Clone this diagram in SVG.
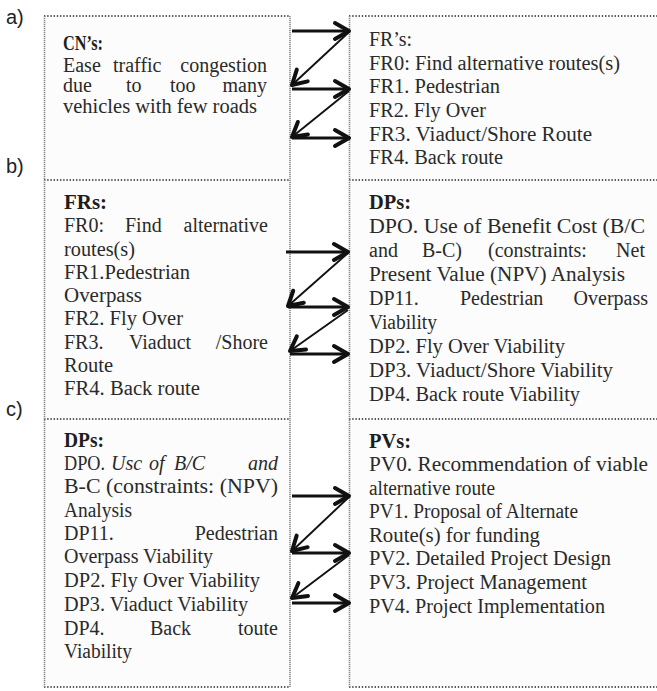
<svg xmlns="http://www.w3.org/2000/svg" width="657" height="691" viewBox="0 0 657 691">
<style>
.t{font-family:"Liberation Serif","Times New Roman",serif;font-size:20px;fill:#2a2a2a}
.e{text-anchor:end}
.b{font-weight:bold;fill:#1e1e1e}
.i{font-style:italic}
.lbl{font-family:"Liberation Sans",Arial,sans-serif;font-size:20px;fill:#222}
.hd{stroke:#222;stroke-width:1.4;stroke-dasharray:1.4 1.8;fill:none}
.vd{stroke:#8a8a8a;stroke-width:1.6;stroke-dasharray:1.2 0.8;fill:none}
.ah{stroke:#111;stroke-width:2.8;fill:none;marker-end:url(#ah)}
.ad{stroke:#111;stroke-width:1.9;fill:none;marker-end:url(#ah)}
</style>
<defs>
<marker id="ah" markerUnits="userSpaceOnUse" markerWidth="24" markerHeight="24" viewBox="-18 -12 24 24" refX="0" refY="0" orient="auto" overflow="visible">
<path d="M-14,-8 L0,0 L-14,8" stroke="#111" stroke-width="4" fill="none" stroke-linecap="round" stroke-linejoin="round"/>
</marker>
</defs>
<rect x="0" y="0" width="657" height="691" fill="#ffffff"/>
<g id="labels">
<text class="lbl" x="6" y="24">a)</text>
<text class="lbl" x="6" y="173">b)</text>
<text class="lbl" x="6" y="416">c)</text>
</g>
<g id="frames">
<rect x="44.5" y="16" width="245.5" height="671" fill="#fcfcfc" stroke="none"/>
<rect x="349.5" y="16" width="307.5" height="671" fill="#fcfcfc" stroke="none"/>
<path class="hd" d="M44,16H290M44,180H290M44,419H290M44,687H290"/>
<path class="hd" d="M349,16H657M349,180H657M349,419H657M349,687H657"/>
<path class="vd" d="M44.5,16V687M290,16V687M349.5,16V687"/>
</g>
<g id="cn-a">
<text class="t b" x="63" y="50" textLength="40" lengthAdjust="spacingAndGlyphs">CN’s:</text>
<text class="t" x="63" y="72">Ease</text>
<text class="t" x="113" y="72">traffic</text>
<text class="t e" x="267" y="72">congestion</text>
<text class="t" x="63" y="92">due</text>
<text class="t" x="126" y="92">to</text>
<text class="t" x="170" y="92">too</text>
<text class="t e" x="267" y="92">many</text>
<text class="t" x="63" y="113" textLength="194" lengthAdjust="spacingAndGlyphs">vehicles with few roads</text>
</g>
<g id="fr-a">
<text class="t" x="369" y="46" textLength="43" lengthAdjust="spacingAndGlyphs">FR’s:</text>
<text class="t" x="369" y="70" textLength="251" lengthAdjust="spacingAndGlyphs">FR0: Find alternative routes(s)</text>
<text class="t" x="369" y="93" textLength="131" lengthAdjust="spacingAndGlyphs">FR1. Pedestrian</text>
<text class="t" x="369" y="117" textLength="117" lengthAdjust="spacingAndGlyphs">FR2. Fly Over</text>
<text class="t" x="369" y="141" textLength="223" lengthAdjust="spacingAndGlyphs">FR3. Viaduct/Shore Route</text>
<text class="t" x="369" y="164" textLength="134" lengthAdjust="spacingAndGlyphs">FR4. Back route</text>
</g>
<g id="fr-b">
<text class="t b" x="64" y="209" textLength="43" lengthAdjust="spacingAndGlyphs">FRs:</text>
<text class="t" x="64" y="232">FR0:</text>
<text class="t" x="125" y="232">Find</text>
<text class="t e" x="268" y="232">alternative</text>
<text class="t" x="64" y="256" textLength="71" lengthAdjust="spacingAndGlyphs">routes(s)</text>
<text class="t" x="64" y="279" textLength="126" lengthAdjust="spacingAndGlyphs">FR1.Pedestrian</text>
<text class="t" x="64" y="302" textLength="78" lengthAdjust="spacingAndGlyphs">Overpass</text>
<text class="t" x="64" y="325" textLength="119" lengthAdjust="spacingAndGlyphs">FR2. Fly Over</text>
<text class="t" x="64" y="349">FR3.</text>
<text class="t" x="129" y="349">Viaduct</text>
<text class="t e" x="268" y="349">/Shore</text>
<text class="t" x="64" y="372" textLength="49" lengthAdjust="spacingAndGlyphs">Route</text>
<text class="t" x="64" y="395" textLength="136" lengthAdjust="spacingAndGlyphs">FR4. Back route</text>
</g>
<g id="dp-b">
<text class="t b" x="369" y="209" textLength="42" lengthAdjust="spacingAndGlyphs">DPs:</text>
<text class="t" x="369" y="233" textLength="276" lengthAdjust="spacingAndGlyphs">DPO. Use of Benefit Cost (B/C</text>
<text class="t" x="369" y="257">and</text>
<text class="t" x="422" y="257">B-C)</text>
<text class="t" x="488" y="257">(constraints:</text>
<text class="t e" x="645" y="257">Net</text>
<text class="t" x="369" y="281" textLength="256" lengthAdjust="spacingAndGlyphs">Present Value (NPV) Analysis</text>
<text class="t" x="369" y="305">DP11.</text>
<text class="t" x="460" y="305">Pedestrian</text>
<text class="t e" x="648" y="305">Overpass</text>
<text class="t" x="369" y="329" textLength="68" lengthAdjust="spacingAndGlyphs">Viability</text>
<text class="t" x="369" y="353" textLength="196" lengthAdjust="spacingAndGlyphs">DP2. Fly Over Viability</text>
<text class="t" x="369" y="377" textLength="244" lengthAdjust="spacingAndGlyphs">DP3. Viaduct/Shore Viability</text>
<text class="t" x="369" y="401" textLength="211" lengthAdjust="spacingAndGlyphs">DP4. Back route Viability</text>
</g>
<g id="dp-c">
<text class="t b" x="64" y="447" textLength="40" lengthAdjust="spacingAndGlyphs">DPs:</text>
<text class="t" x="64" y="470" textLength="41" lengthAdjust="spacingAndGlyphs">DPO.</text>
<text class="t i" x="111" y="470">Usc</text>
<text class="t i" x="149" y="470">of</text>
<text class="t i" x="174" y="470">B/C</text>
<text class="t i e" x="278" y="470">and</text>
<text class="t" x="64" y="493" textLength="214" lengthAdjust="spacingAndGlyphs">B-C (constraints: (NPV)</text>
<text class="t" x="64" y="517" textLength="68" lengthAdjust="spacingAndGlyphs">Analysis</text>
<text class="t" x="64" y="540">DP11.</text>
<text class="t e" x="278" y="540">Pedestrian</text>
<text class="t" x="64" y="563" textLength="149" lengthAdjust="spacingAndGlyphs">Overpass Viability</text>
<text class="t" x="64" y="587" textLength="196" lengthAdjust="spacingAndGlyphs">DP2. Fly Over Viability</text>
<text class="t" x="64" y="611" textLength="184" lengthAdjust="spacingAndGlyphs">DP3. Viaduct Viability</text>
<text class="t" x="64" y="635">DP4.</text>
<text class="t" x="150" y="635">Back</text>
<text class="t e" x="278" y="635">toute</text>
<text class="t" x="64" y="658" textLength="68" lengthAdjust="spacingAndGlyphs">Viability</text>
</g>
<g id="pv-c">
<text class="t b" x="369" y="448" textLength="42" lengthAdjust="spacingAndGlyphs">PVs:</text>
<text class="t" x="369" y="471" textLength="279" lengthAdjust="spacingAndGlyphs">PV0. Recommendation of viable</text>
<text class="t" x="369" y="495" textLength="126" lengthAdjust="spacingAndGlyphs">alternative route</text>
<text class="t" x="369" y="518" textLength="209" lengthAdjust="spacingAndGlyphs">PV1. Proposal of Alternate</text>
<text class="t" x="369" y="542" textLength="171" lengthAdjust="spacingAndGlyphs">Route(s) for funding</text>
<text class="t" x="369" y="565" textLength="242" lengthAdjust="spacingAndGlyphs">PV2. Detailed Project Design</text>
<text class="t" x="369" y="589" textLength="218" lengthAdjust="spacingAndGlyphs">PV3. Project Management</text>
<text class="t" x="369" y="613" textLength="236" lengthAdjust="spacingAndGlyphs">PV4. Project Implementation</text>
</g>
<g id="connectors">
<path class="ah" d="M292,31H349"/>
<path class="ad" d="M349,32L292,85"/>
<path class="ah" d="M292,89H349"/>
<path class="ad" d="M349,91L292,137"/>
<path class="ah" d="M292,138H349"/>
<path class="ah" d="M286,252H348"/>
<path class="ad" d="M348,253L288,306"/>
<path class="ah" d="M288,307H348"/>
<path class="ad" d="M348,310L290,351"/>
<path class="ah" d="M290,354H348"/>
<path class="ah" d="M292,496H349"/>
<path class="ad" d="M349,497L292,551"/>
<path class="ah" d="M292,553H349"/>
<path class="ad" d="M349,555L292,598"/>
<path class="ah" d="M292,603H349"/>
</g>
</svg>
